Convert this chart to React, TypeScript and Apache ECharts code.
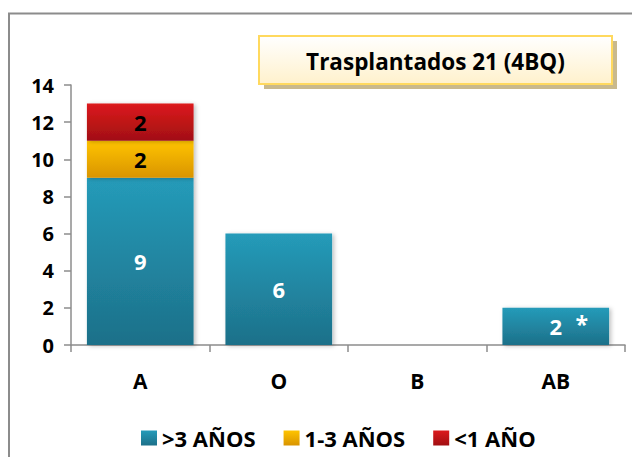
import React, { useEffect, useRef } from "react";
import * as echarts from "echarts";

const categories = ["A", "O", "B", "AB"];
const seriesNames = [">3 AÑOS", "1-3 AÑOS", "<1 AÑO"];
const over3 = [9, 6, 0, 2];
const oneToThree = [2, 0, 0, 0];
const under1 = [2, 0, 0, 0];
const yTicks = { min: 0, max: 14, interval: 2 };
const titleText = "Trasplantados 21 (4BQ)";
const noteMark = "*";
const noteCategory = "AB";

const FONT = "'Open Sans', sans-serif";

const grad = (top: string, bottom: string) =>
  new echarts.graphic.LinearGradient(0, 0, 0, 1, [
    { offset: 0, color: top },
    { offset: 1, color: bottom },
  ]);

export default function App() {
  const ref = useRef<HTMLDivElement>(null);
  useEffect(() => {
    if (!ref.current) return;
    const chart = echarts.init(ref.current, undefined, { renderer: "svg" });
    const labelFmt = (p: any) => {
      if (!p.value) return "";
      if (p.seriesIndex === 0 && p.name === noteCategory) {
        return `{gap|}{v|${p.value}}{ast|${noteMark}}`;
      }
      return `{v|${p.value}}`;
    };
    const mkSeries = (name: string, data: number[], top: string, bottom: string, txt: string) => ({
      name,
      type: "bar",
      stack: "total",
      data,
      barCategoryGap: "23%",
      itemStyle: {
        color: grad(top, bottom),
        shadowBlur: 4,
        shadowOffsetX: 2,
        shadowOffsetY: 1,
        shadowColor: "rgba(0,0,0,0.25)",
      },
      label: {
        show: true,
        position: "inside",
        formatter: labelFmt,
        rich: {
          v: { fontFamily: FONT, fontWeight: "bold", fontSize: 22, color: txt },
          gap: { width: 26 },
          ast: {
            fontFamily: FONT,
            fontWeight: "bold",
            fontSize: 23,
            color: txt,
            width: 26,
            align: "right",
            padding: [0, 0, 5, 0],
          },
        },
      },
    });
    chart.setOption({
      animation: false,
      backgroundColor: "#ffffff",
      grid: { left: 71, right: 7, top: 85, bottom: 112 },
      legend: {
        left: 136,
        top: 422,
        itemWidth: 16,
        itemHeight: 15,
        itemGap: 28,
        icon: "rect",
        data: seriesNames,
        textStyle: { fontFamily: FONT, fontWeight: "bold", fontSize: 22, color: "#000" },
      },
      xAxis: {
        type: "category",
        data: categories,
        axisLine: { lineStyle: { color: "#8c8c8c", width: 1.5 } },
        axisTick: { show: true, length: 7, lineStyle: { color: "#8c8c8c", width: 1.5 } },
        axisLabel: { margin: 25, fontFamily: FONT, fontWeight: "bold", fontSize: 21, color: "#000" },
      },
      yAxis: {
        type: "value",
        min: yTicks.min,
        max: yTicks.max,
        interval: yTicks.interval,
        splitLine: { show: false },
        axisLine: { show: true, lineStyle: { color: "#8c8c8c", width: 1.5 } },
        axisTick: { show: true, length: 7, lineStyle: { color: "#8c8c8c", width: 1.5 } },
        axisLabel: { margin: 17, fontFamily: FONT, fontWeight: "bold", fontSize: 20, color: "#000" },
      },
      graphic: [
        {
          type: "rect",
          z: -10,
          silent: true,
          shape: { x: 9, y: 13.5, width: 700, height: 600 },
          style: { fill: "none", stroke: "#8c8c8c", lineWidth: 2 },
        },
        {
          type: "group",
          left: 258,
          top: 35,
          children: [
            {
              type: "rect",
              shape: { x: 5, y: 5, width: 353, height: 48 },
              style: { fill: "#c9b98c" },
            },
            {
              type: "rect",
              shape: { x: 0, y: 0, width: 353, height: 48 },
              style: {
                fill: new echarts.graphic.LinearGradient(0, 0, 0, 1, [
                  { offset: 0, color: "#ffffff" },
                  { offset: 1, color: "#fff1cc" },
                ]),
                stroke: "#ffd95e",
                lineWidth: 2,
              },
            },
            {
              type: "text",
              x: 176.5,
              y: 25,
              style: {
                text: titleText,
                align: "center",
                verticalAlign: "middle",
                fontFamily: FONT,
                fontWeight: "bold",
                fontSize: 22.5,
                fill: "#000",
              },
            },
          ],
        },
      ],
      series: [
        mkSeries(seriesNames[0], over3, "#259bb9", "#1d7089", "#ffffff"),
        mkSeries(seriesNames[1], oneToThree, "#ffc400", "#d99400", "#000000"),
        mkSeries(seriesNames[2], under1, "#dc1a1d", "#a10f12", "#000000"),
      ],
    });
    return () => chart.dispose();
  }, []);
  return (
    <div
      ref={ref}
      style={{ position: "fixed", left: 0, top: 0, width: 632, height: 457 }}
    />
  );
}
